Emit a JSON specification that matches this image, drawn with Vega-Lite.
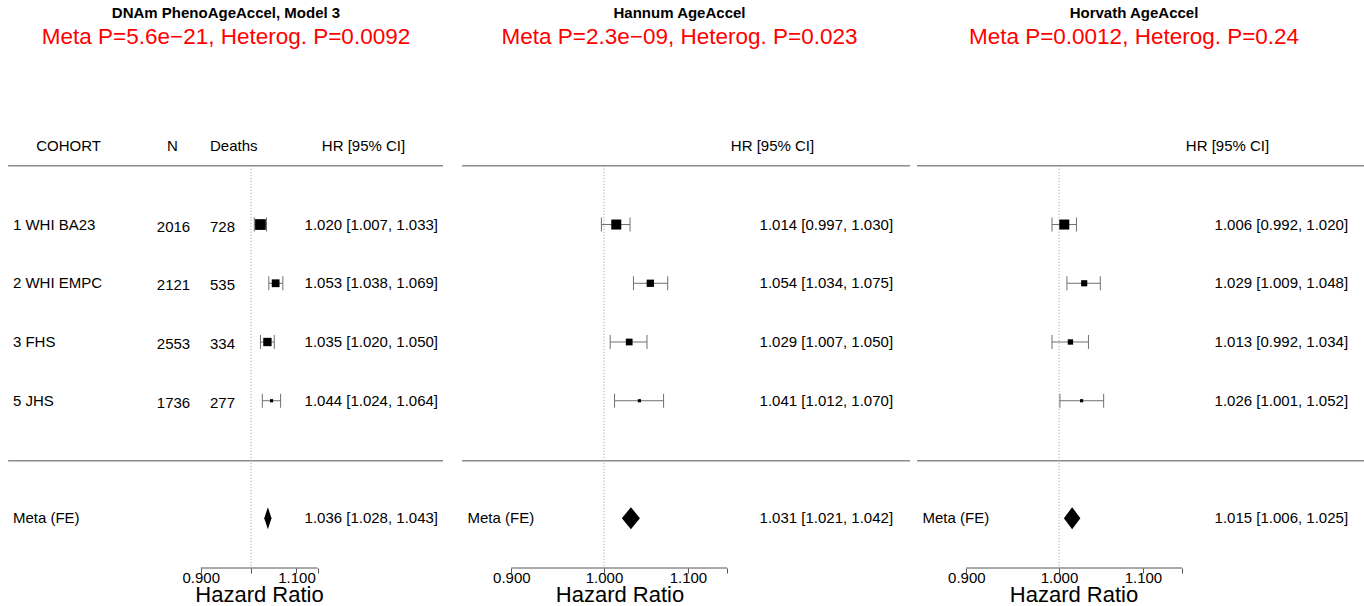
{
  "$schema": "https://vega.github.io/schema/vega-lite/v6.json",
  "background": "white",
  "padding": {"top": 5, "left": 0, "right": 0, "bottom": 0},
  "spacing": 0,
  "bounds": "flush",
  "config": {
    "view": {"stroke": null},
    "font": "Liberation Sans",
    "text": {"font": "Liberation Sans"},
    "axisX": {"values": [0.9, 1, 1.1, 1.15], "domain": false, "grid": false, "tickColor": "#555555", "tickSize": 5, "tickWidth": 1, "labelFont": "Liberation Sans", "labelFontSize": 15, "labelColor": "#000000", "labelBaseline": "alphabetic", "labelPadding": 9, "labelFlush": false, "labelOverlap": false, "labelBound": false, "titleFont": "Liberation Sans", "titleFontSize": 22, "titleFontWeight": "normal", "titleColor": "#000000", "titleY": 33, "titleBaseline": "alphabetic", "titleAlign": "center"}
  },
  "resolve": {"scale": {"x": "independent", "y": "independent", "size": "independent"}},
  "datasets": {
    "forest": [
      {"model": "PhenoAge", "type": "study", "cohort": "1 WHI BA23", "row": 1, "N": 2016, "deaths": 728, "hr": 1.020, "lo": 1.007, "hi": 1.033, "weight": 34.8, "label": "1.020 [1.007, 1.033]"},
      {"model": "PhenoAge", "type": "study", "cohort": "2 WHI EMPC", "row": 2, "N": 2121, "deaths": 535, "hr": 1.053, "lo": 1.038, "hi": 1.069, "weight": 24.4, "label": "1.053 [1.038, 1.069]"},
      {"model": "PhenoAge", "type": "study", "cohort": "3 FHS", "row": 3, "N": 2553, "deaths": 334, "hr": 1.035, "lo": 1.020, "hi": 1.050, "weight": 26.1, "label": "1.035 [1.020, 1.050]"},
      {"model": "PhenoAge", "type": "study", "cohort": "5 JHS", "row": 4, "N": 1736, "deaths": 277, "hr": 1.044, "lo": 1.024, "hi": 1.064, "weight": 14.7, "label": "1.044 [1.024, 1.064]"},
      {"model": "PhenoAge", "type": "meta", "cohort": "Meta (FE)", "row": 6, "hr": 1.036, "lo": 1.028, "hi": 1.043, "label": "1.036 [1.028, 1.043]"},
      {"model": "Hannum", "type": "study", "cohort": "1 WHI BA23", "row": 1, "N": 2016, "deaths": 728, "hr": 1.014, "lo": 0.997, "hi": 1.030, "weight": 39.0, "label": "1.014 [0.997, 1.030]"},
      {"model": "Hannum", "type": "study", "cohort": "2 WHI EMPC", "row": 2, "N": 2121, "deaths": 535, "hr": 1.054, "lo": 1.034, "hi": 1.075, "weight": 25.3, "label": "1.054 [1.034, 1.075]"},
      {"model": "Hannum", "type": "study", "cohort": "3 FHS", "row": 3, "N": 2553, "deaths": 334, "hr": 1.029, "lo": 1.007, "hi": 1.050, "weight": 23.0, "label": "1.029 [1.007, 1.050]"},
      {"model": "Hannum", "type": "study", "cohort": "5 JHS", "row": 4, "N": 1736, "deaths": 277, "hr": 1.041, "lo": 1.012, "hi": 1.070, "weight": 12.6, "label": "1.041 [1.012, 1.070]"},
      {"model": "Hannum", "type": "meta", "cohort": "Meta (FE)", "row": 6, "hr": 1.031, "lo": 1.021, "hi": 1.042, "label": "1.031 [1.021, 1.042]"},
      {"model": "Horvath", "type": "study", "cohort": "1 WHI BA23", "row": 1, "N": 2016, "deaths": 728, "hr": 1.006, "lo": 0.992, "hi": 1.020, "weight": 44.2, "label": "1.006 [0.992, 1.020]"},
      {"model": "Horvath", "type": "study", "cohort": "2 WHI EMPC", "row": 2, "N": 2121, "deaths": 535, "hr": 1.029, "lo": 1.009, "hi": 1.048, "weight": 22.8, "label": "1.029 [1.009, 1.048]"},
      {"model": "Horvath", "type": "study", "cohort": "3 FHS", "row": 3, "N": 2553, "deaths": 334, "hr": 1.013, "lo": 0.992, "hi": 1.034, "weight": 19.7, "label": "1.013 [0.992, 1.034]"},
      {"model": "Horvath", "type": "study", "cohort": "5 JHS", "row": 4, "N": 1736, "deaths": 277, "hr": 1.026, "lo": 1.001, "hi": 1.052, "weight": 13.3, "label": "1.026 [1.001, 1.052]"},
      {"model": "Horvath", "type": "meta", "cohort": "Meta (FE)", "row": 6, "hr": 1.015, "lo": 1.006, "hi": 1.025, "label": "1.015 [1.006, 1.025]"}
    ]
  },
  "hconcat": [
    {
      "width": 455, "height": 508,
      "title": {"text": "DNAm PhenoAgeAccel, Model 3", "subtitle": "Meta P=5.6e−21, Heterog. P=0.0092", "anchor": "middle", "frame": "group", "dx": -1.5, "font": "Liberation Sans", "fontSize": 15, "fontWeight": "bold", "color": "#000000", "subtitleFont": "Liberation Sans", "subtitleFontSize": 22.5, "subtitleColor": "#ff0000", "subtitlePadding": 5, "offset": 12},
      "layer": [
        {"data": {"values": [{}]}, "mark": {"type": "rule", "color": "#8c8c8c", "strokeWidth": 1.5},
         "encoding": {"x": {"datum": 0.6009, "scale": {"type": "log", "domain": [0.5908, 1.5337], "nice": false},
           "axis": {"values": [0.9, 1, 1.1, 1.15], "labelFontSize": 15, "labelExpr": "(datum.value > 1.12 || (datum.value > 0.99 && datum.value < 1.01)) ? '' : format(datum.value, '.3f')", "title": "Hazard Ratio", "titleX": 259}},
          "x2": {"datum": 1.4956},
          "y": {"datum": 0, "scale": {"domain": [-1.8015, 6.848], "reverse": true, "nice": false, "zero": false}, "axis": null}}},
        {"data": {"values": [{}]}, "mark": {"type": "rule", "color": "#8c8c8c", "strokeWidth": 1.5},
         "encoding": {"x": {"datum": 0.6009}, "x2": {"datum": 1.4956}, "y": {"datum": 5.02, "axis": null}}},
        {"data": {"values": [{}]}, "mark": {"type": "rule", "color": "#9a9a9a", "strokeWidth": 1, "strokeDash": [1, 2]},
         "encoding": {"x": {"datum": 1}, "y": {"datum": 0, "axis": null}, "y2": {"datum": 6.848}}},
        {"data": {"values": [{}]}, "mark": {"type": "rule", "color": "#555555", "strokeWidth": 1},
         "encoding": {"x": {"datum": 0.9}, "x2": {"datum": 1.15}, "y": {"datum": 6.848, "axis": null}}},
        {"data": {"name": "forest"}, "transform": [{"filter": "datum.model == 'PhenoAge' && datum.type == 'study'"}],
         "mark": {"type": "rule", "color": "#707070", "strokeWidth": 1},
         "encoding": {"x": {"field": "lo", "type": "quantitative"}, "x2": {"field": "hi"}, "y": {"field": "row", "type": "quantitative", "axis": null}}},
        {"data": {"name": "forest"}, "transform": [{"filter": "datum.model == 'PhenoAge' && datum.type == 'study'"}, {"fold": ["lo", "hi"], "as": ["end", "val"]}],
         "mark": {"type": "tick", "orient": "vertical", "color": "#707070", "size": 14, "thickness": 1, "opacity": 1},
         "encoding": {"x": {"field": "val", "type": "quantitative"}, "y": {"field": "row", "type": "quantitative", "axis": null}}},
        {"data": {"name": "forest"}, "transform": [{"filter": "datum.model == 'PhenoAge' && datum.type == 'study'"}],
         "mark": {"type": "point", "shape": "square", "filled": true, "color": "#000000", "opacity": 1, "strokeWidth": 0},
         "encoding": {"x": {"field": "hr", "type": "quantitative"}, "y": {"field": "row", "type": "quantitative", "axis": null},
           "size": {"field": "weight", "type": "quantitative", "scale": {"range": [10, 115], "zero": false}, "legend": null}}},
        {"data": {"name": "forest"}, "transform": [{"filter": "datum.model == 'PhenoAge' && datum.type == 'meta'"}],
         "mark": {"type": "point", "shape": "M0,-1L0.33,0L0,1L-0.33,0Z", "filled": true, "color": "#000000", "opacity": 1, "size": 484, "strokeWidth": 0},
         "encoding": {"x": {"field": "hr", "type": "quantitative"}, "y": {"field": "row", "type": "quantitative", "axis": null}}},
        {"data": {"name": "forest"}, "transform": [{"filter": "datum.model == 'PhenoAge'"}],
         "mark": {"type": "text", "align": "left", "baseline": "middle", "fontSize": 15, "color": "#000000"},
         "encoding": {"x": {"datum": 0.607}, "y": {"field": "row", "type": "quantitative", "axis": null}, "text": {"field": "cohort", "type": "nominal"}}},
        {"data": {"name": "forest"}, "transform": [{"filter": "datum.model == 'PhenoAge' && datum.type == 'study'"}],
         "mark": {"type": "text", "align": "center", "baseline": "middle", "fontSize": 15, "color": "#000000", "dy": 2},
         "encoding": {"x": {"datum": 0.85}, "y": {"field": "row", "type": "quantitative", "axis": null}, "text": {"field": "N", "type": "nominal"}}},
        {"data": {"name": "forest"}, "transform": [{"filter": "datum.model == 'PhenoAge' && datum.type == 'study'"}],
         "mark": {"type": "text", "align": "left", "baseline": "middle", "fontSize": 15, "color": "#000000", "dy": 2},
         "encoding": {"x": {"datum": 0.9176}, "y": {"field": "row", "type": "quantitative", "axis": null}, "text": {"field": "deaths", "type": "nominal"}}},
        {"data": {"name": "forest"}, "transform": [{"filter": "datum.model == 'PhenoAge'"}],
         "mark": {"type": "text", "align": "right", "baseline": "middle", "fontSize": 15, "color": "#000000"},
         "encoding": {"x": {"datum": 1.48}, "y": {"field": "row", "type": "quantitative", "axis": null}, "text": {"field": "label", "type": "nominal"}}},
        {"data": {"values": [{}]}, "mark": {"type": "text", "text": "COHORT", "align": "center", "baseline": "middle", "fontSize": 15, "color": "#000000"},
         "encoding": {"x": {"datum": 0.6821}, "y": {"datum": -0.337, "axis": null}}},
        {"data": {"values": [{}]}, "mark": {"type": "text", "text": "N", "align": "center", "baseline": "middle", "fontSize": 15, "color": "#000000"},
         "encoding": {"x": {"datum": 0.848}, "y": {"datum": -0.337, "axis": null}}},
        {"data": {"values": [{}]}, "mark": {"type": "text", "text": "Deaths", "align": "left", "baseline": "middle", "fontSize": 15, "color": "#000000"},
         "encoding": {"x": {"datum": 0.9176}, "y": {"datum": -0.337, "axis": null}}},
        {"data": {"values": [{}]}, "mark": {"type": "text", "text": "HR [95% CI]", "align": "center", "baseline": "middle", "fontSize": 15, "color": "#000000"},
         "encoding": {"x": {"datum": 1.266}, "y": {"datum": -0.337, "axis": null}}}
      ]
    },
    {
      "width": 455, "height": 508,
      "title": {"text": "Hannum AgeAccel", "subtitle": "Meta P=2.3e−09, Heterog. P=0.023", "anchor": "middle", "frame": "group", "dx": -3, "font": "Liberation Sans", "fontSize": 15, "fontWeight": "bold", "color": "#000000", "subtitleFont": "Liberation Sans", "subtitleFontSize": 22.5, "subtitleColor": "#ff0000", "subtitlePadding": 5, "offset": 12},
      "layer": [
        {"data": {"values": [{}]}, "mark": {"type": "rule", "color": "#8c8c8c", "strokeWidth": 1.5},
         "encoding": {"x": {"datum": 0.851, "scale": {"type": "log", "domain": [0.8442, 1.4158], "nice": false},
           "axis": {"values": [0.9, 1, 1.1, 1.15], "labelFontSize": 15, "labelExpr": "datum.value > 1.12 ? '' : format(datum.value, '.3f')", "title": "Hazard Ratio", "titleX": 164.5}},
          "x2": {"datum": 1.4158},
          "y": {"datum": 0, "scale": {"domain": [-1.8015, 6.848], "reverse": true, "nice": false, "zero": false}, "axis": null}}},
        {"data": {"values": [{}]}, "mark": {"type": "rule", "color": "#8c8c8c", "strokeWidth": 1.5},
         "encoding": {"x": {"datum": 0.851}, "x2": {"datum": 1.4158}, "y": {"datum": 5.02, "axis": null}}},
        {"data": {"values": [{}]}, "mark": {"type": "rule", "color": "#9a9a9a", "strokeWidth": 1, "strokeDash": [1, 2]},
         "encoding": {"x": {"datum": 1}, "y": {"datum": 0, "axis": null}, "y2": {"datum": 6.848}}},
        {"data": {"values": [{}]}, "mark": {"type": "rule", "color": "#555555", "strokeWidth": 1},
         "encoding": {"x": {"datum": 0.9}, "x2": {"datum": 1.15}, "y": {"datum": 6.848, "axis": null}}},
        {"data": {"name": "forest"}, "transform": [{"filter": "datum.model == 'Hannum' && datum.type == 'study'"}],
         "mark": {"type": "rule", "color": "#707070", "strokeWidth": 1},
         "encoding": {"x": {"field": "lo", "type": "quantitative"}, "x2": {"field": "hi"}, "y": {"field": "row", "type": "quantitative", "axis": null}}},
        {"data": {"name": "forest"}, "transform": [{"filter": "datum.model == 'Hannum' && datum.type == 'study'"}, {"fold": ["lo", "hi"], "as": ["end", "val"]}],
         "mark": {"type": "tick", "orient": "vertical", "color": "#707070", "size": 14, "thickness": 1, "opacity": 1},
         "encoding": {"x": {"field": "val", "type": "quantitative"}, "y": {"field": "row", "type": "quantitative", "axis": null}}},
        {"data": {"name": "forest"}, "transform": [{"filter": "datum.model == 'Hannum' && datum.type == 'study'"}],
         "mark": {"type": "point", "shape": "square", "filled": true, "color": "#000000", "opacity": 1, "strokeWidth": 0},
         "encoding": {"x": {"field": "hr", "type": "quantitative"}, "y": {"field": "row", "type": "quantitative", "axis": null},
           "size": {"field": "weight", "type": "quantitative", "scale": {"range": [10, 100], "zero": false}, "legend": null}}},
        {"data": {"name": "forest"}, "transform": [{"filter": "datum.model == 'Hannum' && datum.type == 'meta'"}],
         "mark": {"type": "point", "shape": "M0,-1L0.82,0L0,1L-0.82,0Z", "filled": true, "color": "#000000", "opacity": 1, "size": 484, "strokeWidth": 0},
         "encoding": {"x": {"field": "hr", "type": "quantitative"}, "y": {"field": "row", "type": "quantitative", "axis": null}}},
        {"data": {"name": "forest"}, "transform": [{"filter": "datum.model == 'Hannum' && datum.type == 'meta'"}],
         "mark": {"type": "text", "align": "left", "baseline": "middle", "fontSize": 15, "color": "#000000"},
         "encoding": {"x": {"datum": 0.8563}, "y": {"field": "row", "type": "quantitative", "axis": null}, "text": {"field": "cohort", "type": "nominal"}}},
        {"data": {"name": "forest"}, "transform": [{"filter": "datum.model == 'Hannum'"}],
         "mark": {"type": "text", "align": "right", "baseline": "middle", "fontSize": 15, "color": "#000000"},
         "encoding": {"x": {"datum": 1.3888}, "y": {"field": "row", "type": "quantitative", "axis": null}, "text": {"field": "label", "type": "nominal"}}},
        {"data": {"values": [{}]}, "mark": {"type": "text", "text": "HR [95% CI]", "align": "center", "baseline": "middle", "fontSize": 15, "color": "#000000"},
         "encoding": {"x": {"datum": 1.211}, "y": {"datum": -0.337, "axis": null}}}
      ]
    },
    {
      "width": 455, "height": 508,
      "title": {"text": "Horvath AgeAccel", "subtitle": "Meta P=0.0012, Heterog. P=0.24", "anchor": "middle", "frame": "group", "dx": -3.5, "font": "Liberation Sans", "fontSize": 15, "fontWeight": "bold", "color": "#000000", "subtitleFont": "Liberation Sans", "subtitleFontSize": 22.5, "subtitleColor": "#ff0000", "subtitlePadding": 5, "offset": 12},
      "layer": [
        {"data": {"values": [{}]}, "mark": {"type": "rule", "color": "#8c8c8c", "strokeWidth": 1.5},
         "encoding": {"x": {"datum": 0.851, "scale": {"type": "log", "domain": [0.8442, 1.4158], "nice": false},
           "axis": {"values": [0.9, 1, 1.1, 1.15], "labelFontSize": 15, "labelExpr": "datum.value > 1.12 ? '' : format(datum.value, '.3f')", "title": "Hazard Ratio", "titleX": 163.5}},
          "x2": {"datum": 1.4158},
          "y": {"datum": 0, "scale": {"domain": [-1.8015, 6.848], "reverse": true, "nice": false, "zero": false}, "axis": null}}},
        {"data": {"values": [{}]}, "mark": {"type": "rule", "color": "#8c8c8c", "strokeWidth": 1.5},
         "encoding": {"x": {"datum": 0.851}, "x2": {"datum": 1.4158}, "y": {"datum": 5.02, "axis": null}}},
        {"data": {"values": [{}]}, "mark": {"type": "rule", "color": "#9a9a9a", "strokeWidth": 1, "strokeDash": [1, 2]},
         "encoding": {"x": {"datum": 1}, "y": {"datum": 0, "axis": null}, "y2": {"datum": 6.848}}},
        {"data": {"values": [{}]}, "mark": {"type": "rule", "color": "#555555", "strokeWidth": 1},
         "encoding": {"x": {"datum": 0.9}, "x2": {"datum": 1.15}, "y": {"datum": 6.848, "axis": null}}},
        {"data": {"name": "forest"}, "transform": [{"filter": "datum.model == 'Horvath' && datum.type == 'study'"}],
         "mark": {"type": "rule", "color": "#707070", "strokeWidth": 1},
         "encoding": {"x": {"field": "lo", "type": "quantitative"}, "x2": {"field": "hi"}, "y": {"field": "row", "type": "quantitative", "axis": null}}},
        {"data": {"name": "forest"}, "transform": [{"filter": "datum.model == 'Horvath' && datum.type == 'study'"}, {"fold": ["lo", "hi"], "as": ["end", "val"]}],
         "mark": {"type": "tick", "orient": "vertical", "color": "#707070", "size": 14, "thickness": 1, "opacity": 1},
         "encoding": {"x": {"field": "val", "type": "quantitative"}, "y": {"field": "row", "type": "quantitative", "axis": null}}},
        {"data": {"name": "forest"}, "transform": [{"filter": "datum.model == 'Horvath' && datum.type == 'study'"}],
         "mark": {"type": "point", "shape": "square", "filled": true, "color": "#000000", "opacity": 1, "strokeWidth": 0},
         "encoding": {"x": {"field": "hr", "type": "quantitative"}, "y": {"field": "row", "type": "quantitative", "axis": null},
           "size": {"field": "weight", "type": "quantitative", "scale": {"range": [10, 100], "zero": false}, "legend": null}}},
        {"data": {"name": "forest"}, "transform": [{"filter": "datum.model == 'Horvath' && datum.type == 'meta'"}],
         "mark": {"type": "point", "shape": "M0,-1L0.75,0L0,1L-0.75,0Z", "filled": true, "color": "#000000", "opacity": 1, "size": 484, "strokeWidth": 0},
         "encoding": {"x": {"field": "hr", "type": "quantitative"}, "y": {"field": "row", "type": "quantitative", "axis": null}}},
        {"data": {"name": "forest"}, "transform": [{"filter": "datum.model == 'Horvath' && datum.type == 'meta'"}],
         "mark": {"type": "text", "align": "left", "baseline": "middle", "fontSize": 15, "color": "#000000"},
         "encoding": {"x": {"datum": 0.8563}, "y": {"field": "row", "type": "quantitative", "axis": null}, "text": {"field": "cohort", "type": "nominal"}}},
        {"data": {"name": "forest"}, "transform": [{"filter": "datum.model == 'Horvath'"}],
         "mark": {"type": "text", "align": "right", "baseline": "middle", "fontSize": 15, "color": "#000000"},
         "encoding": {"x": {"datum": 1.3888}, "y": {"field": "row", "type": "quantitative", "axis": null}, "text": {"field": "label", "type": "nominal"}}},
        {"data": {"values": [{}]}, "mark": {"type": "text", "text": "HR [95% CI]", "align": "center", "baseline": "middle", "fontSize": 15, "color": "#000000"},
         "encoding": {"x": {"datum": 1.211}, "y": {"datum": -0.337, "axis": null}}}
      ]
    }
  ]
}
